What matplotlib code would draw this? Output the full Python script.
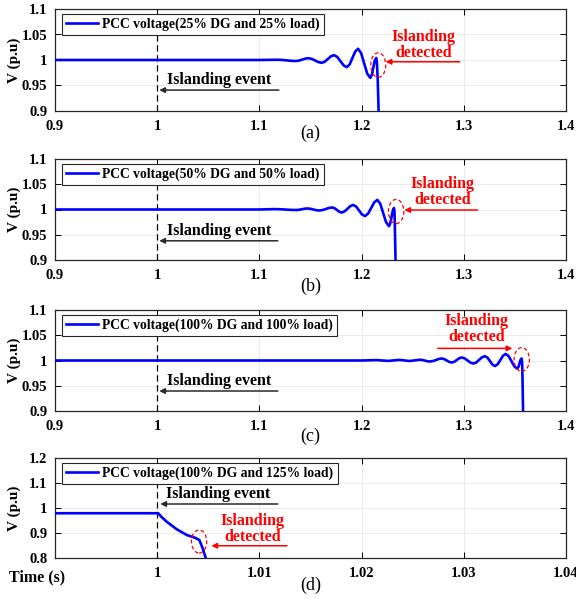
import matplotlib
matplotlib.use("Agg")
import matplotlib.pyplot as plt
from matplotlib.patches import Ellipse

plt.rcParams['font.family'] = ['Liberation Serif', 'DejaVu Serif']
plt.rcParams['font.weight'] = 'bold'

# ---- PCC voltage traces (time in s, voltage in p.u.) ----
t_a = [0.900, 1.100, 1.118, 1.1224, 1.1268, 1.1311, 1.1355, 1.1386, 1.1418, 1.1449, 1.148,
       1.1513, 1.1545, 1.1578, 1.161, 1.164, 1.167, 1.170, 1.173, 1.1761, 1.1793, 1.1824,
       1.1855, 1.1883, 1.191, 1.1938, 1.1965, 1.1995, 1.2025, 1.2055, 1.2085, 1.2100,
       1.2114, 1.2128, 1.2143, 1.2150, 1.2158, 1.2165, 1.2172]
v_a = [1.000, 1.000, 1.0005, 1.0001, 0.99925, 0.9984, 0.998, 0.9988, 1.00075, 1.0027, 1.0035,
       1.0022, 0.999, 0.9958, 0.9945, 0.9967, 1.002, 1.0073, 1.0095, 1.0061, 0.99775, 0.9894,
       0.986, 0.9913, 1.004, 1.0167, 1.022, 1.0137, 0.9935, 0.9733, 0.965, 0.9707,
       0.9845, 0.9983, 1.004, 0.995, 0.960, 0.910, 0.850]

t_b = [0.900, 1.100, 1.115, 1.1203, 1.1255, 1.1308, 1.136, 1.1388, 1.1415, 1.1443, 1.147,
       1.1499, 1.1528, 1.1557, 1.1586, 1.1618, 1.165, 1.1681, 1.1713, 1.1736, 1.1759, 1.1782,
       1.1805, 1.1833, 1.1862, 1.189, 1.1918, 1.1947, 1.1975, 1.2004, 1.2033, 1.2063,
       1.2094, 1.2124, 1.2154, 1.2183, 1.2211, 1.224, 1.2268, 1.228, 1.2293, 1.2305,
       1.2317, 1.2322, 1.2326, 1.2331, 1.2336]
v_b = [1.000, 1.000, 1.0008, 1.0005, 0.9999, 0.9993, 0.999, 0.9994, 1.0005, 1.0016, 1.002,
       1.0014, 1.000, 0.9986, 0.998, 0.9989, 1.001, 1.0031, 1.004, 1.0025, 0.999, 0.9955,
       0.994, 0.9962, 1.0015, 1.0068, 1.009, 1.0058, 0.998, 0.9902, 0.987, 0.9917,
       1.003, 1.0143, 1.019, 1.0114, 0.993, 0.9746, 0.967, 0.9723, 0.985, 0.9977,
       1.003, 0.995, 0.960, 0.910, 0.850]

t_c = [0.900, 1.200, 1.215, 1.226, 1.237, 1.247, 1.257, 1.2595, 1.262, 1.2645, 1.267,
       1.2699, 1.2727, 1.2756, 1.2784, 1.2809, 1.2833, 1.2858, 1.2882, 1.2907, 1.2931,
       1.2956, 1.298, 1.3008, 1.3037, 1.3065, 1.3093, 1.3122, 1.315, 1.3179, 1.3207,
       1.3232, 1.3256, 1.3281, 1.3305, 1.3331, 1.3358, 1.3384, 1.341, 1.3438, 1.3467,
       1.3495, 1.3523, 1.3534, 1.3545, 1.3555, 1.3566, 1.3571, 1.3575, 1.3579, 1.3584]
v_c = [1.000, 1.000, 1.0008, 0.9992, 1.0012, 0.999, 1.0015, 1.001, 0.99975, 0.9985, 0.998,
       0.9989, 1.001, 1.0031, 1.004, 1.0028, 1.000, 0.9972, 0.996, 0.9975, 1.001,
       1.0045, 1.006, 1.0042, 1.000, 0.9958, 0.994, 0.9961, 1.0013, 1.0064, 1.0085,
       1.0057, 0.99875, 0.9918, 0.989, 0.9925, 1.001, 1.0095, 1.013, 1.0088, 0.9985,
       0.9882, 0.984, 0.9869, 0.994, 1.0011, 1.004, 0.995, 0.960, 0.910, 0.850]

t_d = [0.990, 1.0001, 1.0004, 1.00093, 1.00191, 1.00289, 1.0037, 1.00412, 1.00445, 1.00478, 1.0051]
v_d = [0.979, 0.979, 0.965, 0.945, 0.915, 0.892, 0.881, 0.872, 0.839, 0.796, 0.750]

labels = ['PCC voltage(25% DG and 25% load)',
          'PCC voltage(50% DG and 50% load)',
          'PCC voltage(100% DG and 100% load)',
          'PCC voltage(100% DG and 125% load)']
panel_tags = ['(a)', '(b)', '(c)', '(d)']

xticks_abc = [0.9, 1.0, 1.1, 1.2, 1.3, 1.4]
xticklabels_abc = ['0.9', '1', '1.1', '1.2', '1.3', '1.4']
yticks_abc = [0.9, 0.95, 1.0, 1.05, 1.1]
yticklabels_abc = ['0.9', '0.95', '1', '1.05', '1.1']
xticks_d = [1.0, 1.01, 1.02, 1.03, 1.04]
xticklabels_d = ['1', '1.01', '1.02', '1.03', '1.04']
yticks_d = [0.8, 0.9, 1.0, 1.1, 1.2]
yticklabels_d = ['0.8', '0.9', '1', '1.1', '1.2']

islanding_time = 1.0

W, H = 576, 599
fig = plt.figure(figsize=(W / 100, H / 100), dpi=100)

# axes boxes in pixels: (top, bottom)
boxes = [(9, 111), (159, 260), (310, 411), (458, 558)]
left_px, right_px = 55, 566
tag_y = [133, 286, 436, 585]

series = [(t_a, v_a), (t_b, v_b), (t_c, v_c), (t_d, v_d)]
axes = []
for i, (top, bot) in enumerate(boxes):
    ax = fig.add_axes([left_px / W, 1 - bot / H, (right_px - left_px) / W, (bot - top) / H])
    axes.append(ax)
    t, v = series[i]
    ax.plot(t, v, color='#0000ff', lw=1.9, solid_joinstyle='round', label=labels[i], zorder=3)
    ax.axvline(islanding_time, color='black', lw=0.9, ls=(0, (5, 3)), zorder=2)
    if i < 3:
        ax.set_xlim(0.9, 1.4)
        ax.set_ylim(0.9, 1.1)
        ax.set_xticks(xticks_abc)
        ax.set_xticklabels(xticklabels_abc)
        ax.set_yticks(yticks_abc)
        ax.set_yticklabels(yticklabels_abc)
    else:
        ax.set_xlim(0.99, 1.04)
        ax.set_ylim(0.8, 1.2)
        ax.set_xticks(xticks_d)
        ax.set_xticklabels(xticklabels_d)
        ax.set_yticks(yticks_d)
        ax.set_yticklabels(yticklabels_d)
    ax.grid(True, color='#ebebeb', lw=0.7, zorder=0)
    ax.tick_params(direction='in', top=True, right=True, length=4, width=0.7,
                   labelsize=10.5)
    ax.tick_params(axis='y', pad=5.5)
    ax.tick_params(axis='x', pad=6.5)
    for lab in ax.get_xticklabels() + ax.get_yticklabels():
        lab.set_fontweight('bold')
    for sp in ax.spines.values():
        sp.set_linewidth(0.9)
        sp.set_color('#262626')
    ax.set_ylabel('V (p.u)', fontsize=11, fontweight='bold')
    ax.yaxis.set_label_coords(-0.066, 0.5)
    leg = ax.legend(loc='upper left', bbox_to_anchor=(0.013, 0.955), fontsize=9.8,
                    frameon=True, fancybox=False, edgecolor='#262626', framealpha=1,
                    handlelength=2.4, handletextpad=0.3, borderpad=0.3,
                    borderaxespad=0.0)
    leg.get_frame().set_linewidth(0.8)
    for txt in leg.get_texts():
        txt.set_fontweight('bold')
    fig.text((left_px + right_px) / 2 / W, 1 - tag_y[i] / H, panel_tags[i],
             ha='center', va='center', fontsize=13, fontweight='normal')

arrow_k = dict(arrowstyle='-|>', color='#2a2a2a', lw=1.1, mutation_scale=8, shrinkA=0, shrinkB=0)
arrow_r = dict(arrowstyle='-|>', color='#ff0000', lw=1.1, mutation_scale=8, shrinkA=0, shrinkB=0)
red = '#ff0000'
fs_ann = 11.5
ell = dict(fill=False, ec=red, lw=0.9, ls=(0, (3, 2)), zorder=4)

# ---- panel (a) ----
ax = axes[0]
ax.annotate('', xy=(1.002, 0.941), xytext=(1.119, 0.941), arrowprops=arrow_k)
ax.text(1.061, 0.961, 'Islanding event', ha='center', va='center', fontsize=fs_ann, fontweight='bold')
ax.add_patch(Ellipse((1.2163, 0.990), 0.0146, 0.048, **ell))
ax.annotate('', xy=(1.2235, 0.9965), xytext=(1.2960, 0.9965), arrowprops=arrow_r)
ax.text(1.2608, 1.030, 'Islanding\ndetected', ha='center', va='center', color=red,
        fontsize=fs_ann, fontweight='bold', linespacing=1.0)

# ---- panel (b) ----
ax = axes[1]
ax.annotate('', xy=(1.002, 0.938), xytext=(1.118, 0.938), arrowprops=arrow_k)
ax.text(1.061, 0.9574, 'Islanding event', ha='center', va='center', fontsize=fs_ann, fontweight='bold')
ax.add_patch(Ellipse((1.2338, 0.996), 0.0150, 0.048, **ell))
ax.annotate('', xy=(1.2418, 0.999), xytext=(1.3135, 0.999), arrowprops=arrow_r)
ax.text(1.2795, 1.0345, 'Islanding\ndetected', ha='center', va='center', color=red,
        fontsize=fs_ann, fontweight='bold', linespacing=1.0)

# ---- panel (c) ----
ax = axes[2]
ax.annotate('', xy=(1.002, 0.9396), xytext=(1.118, 0.9396), arrowprops=arrow_k)
ax.text(1.061, 0.9594, 'Islanding event', ha='center', va='center', fontsize=fs_ann, fontweight='bold')
ax.add_patch(Ellipse((1.3567, 1.002), 0.0150, 0.047, **ell))
ax.annotate('', xy=(1.3475, 1.024), xytext=(1.2745, 1.024), arrowprops=arrow_r)
ax.text(1.3128, 1.0625, 'Islanding\ndetected', ha='center', va='center', color=red,
        fontsize=fs_ann, fontweight='bold', linespacing=1.0)

# ---- panel (d) ----
ax = axes[3]
ax.annotate('', xy=(1.0003, 1.016), xytext=(1.0118, 1.016), arrowprops=arrow_k)
ax.text(1.0060, 1.056, 'Islanding event', ha='center', va='center', fontsize=fs_ann, fontweight='bold')
ax.add_patch(Ellipse((1.0041, 0.866), 0.0015, 0.092, **ell))
ax.annotate('', xy=(1.0053, 0.849), xytext=(1.0127, 0.849), arrowprops=arrow_r)
ax.text(1.0093, 0.915, 'Islanding\ndetected', ha='center', va='center', color=red,
        fontsize=fs_ann, fontweight='bold', linespacing=1.0)
fig.text(37 / W, 1 - 577 / H, 'Time (s)', ha='center', va='center', fontsize=11.5, fontweight='bold')

fig.savefig('out.png', dpi=100)
